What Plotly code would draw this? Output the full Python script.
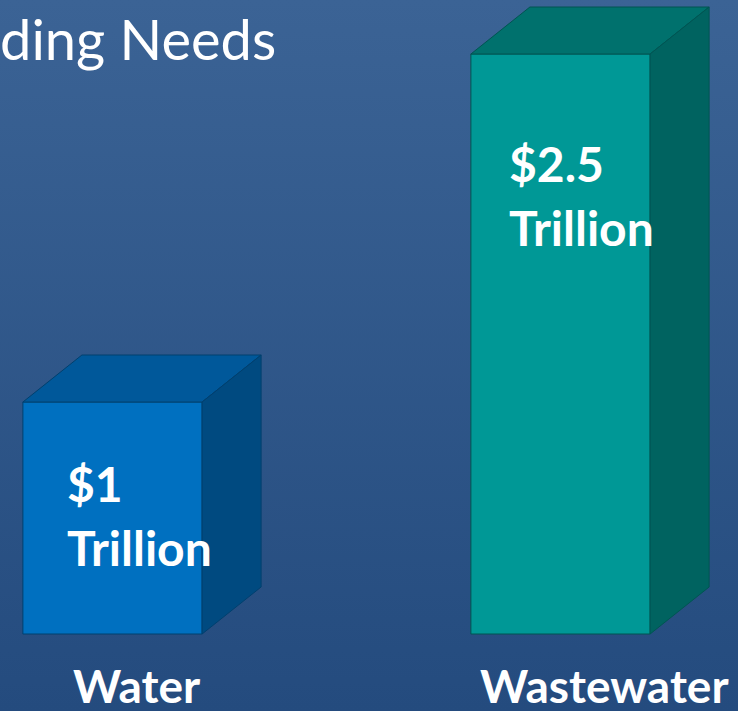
import base64
import plotly.graph_objects as go

# ---- data ----
categories = ["Water", "Wastewater"]
values = [1.0, 2.5]            # trillions of dollars
value_unit = "Trillion"
title_text = "Funding Needs"

# ---- style ----
front_colors = ["#0070C0", "#009896"]
top_colors = ["#00589A", "#00716D"]
side_colors = ["#004A80", "#006360"]
edge_colors = ["#00406E", "#005552"]
bg_top, bg_bottom = "#3B6395", "#244B7E"

W, H = 738, 711
px_per_x = 448.0
x0_px = 112.5             # pixel of first category centre
base_px = 634.0           # pixel of baseline
px_per_y = 232.0

def dx(p):   # pixel width -> data
    return p / px_per_x

def dy(p):
    return p / px_per_y

x_range = [-x0_px / px_per_x, (W - x0_px) / px_per_x]
y_range = [-(H - base_px) / px_per_y, base_px / px_per_y]

half = 0.2
depth_x = dx(59)
depth_y = dy(47)
xs = list(range(len(categories)))

fig = go.Figure()

# front faces
fig.add_trace(go.Bar(
    x=xs, y=values, width=2 * half,
    marker=dict(color=front_colors, line=dict(color=edge_colors, width=1)),
    hoverinfo="skip", showlegend=False,
))

# top and side faces (3D look)
for i, (c, v) in enumerate(zip(xs, values)):
    top_x = [c - half, c - half + depth_x, c + half + depth_x, c + half, c - half]
    top_y = [v, v + depth_y, v + depth_y, v, v]
    side_x = [c + half, c + half, c + half + depth_x, c + half + depth_x, c + half]
    side_y = [0, v, v + depth_y, depth_y, 0]
    fig.add_trace(go.Scatter(x=top_x, y=top_y, fill="toself", mode="lines",
                             fillcolor=top_colors[i],
                             line=dict(color=edge_colors[i], width=1),
                             hoverinfo="skip", showlegend=False))
    fig.add_trace(go.Scatter(x=side_x, y=side_y, fill="toself", mode="lines",
                             fillcolor=side_colors[i],
                             line=dict(color=edge_colors[i], width=1),
                             hoverinfo="skip", showlegend=False))

label_offsets_px = [81, 109]   # distance of first label line below bar top
line_gap_px = 64
label_left_px = [42, 36]
lbl_font = dict(family="Lato, 'Open Sans', sans-serif", size=48, color="white", weight="bold")
annotations = []
for i, (c, v) in enumerate(zip(xs, values)):
    lx = c - half + dx(label_left_px[i])
    y1 = v - dy(label_offsets_px[i])
    annotations.append(dict(x=lx, y=y1, xref="x", yref="y", text=f"${v:g}",
                            showarrow=False, xanchor="left", yanchor="middle", font=lbl_font))
    annotations.append(dict(x=lx, y=y1 - dy(line_gap_px), xref="x", yref="y", text=value_unit,
                            showarrow=False, xanchor="left", yanchor="middle", font=lbl_font))

# category labels
cat_offsets_px = [24, 44]
cat_font = dict(family="Lato, 'Open Sans', sans-serif", size=46, color="white", weight="bold")
for i, c in enumerate(xs):
    annotations.append(dict(x=c + dx(cat_offsets_px[i]), y=-dy(685 - base_px), xref="x", yref="y",
                            text=categories[i], showarrow=False, xanchor="center", yanchor="middle",
                            font=cat_font))

# title (cropped at left edge, as in the reference)
annotations.append(dict(x=278 / W, y=1 - 38 / H, xref="paper", yref="paper", text=title_text,
                        showarrow=False, xanchor="right", yanchor="middle",
                        font=dict(family="Lato, 'Open Sans', sans-serif", size=56, color="white")))

svg = (f'<svg xmlns="http://www.w3.org/2000/svg" width="{W}" height="{H}" preserveAspectRatio="none">'
       f'<defs><linearGradient id="g" x1="0" y1="0" x2="0" y2="1">'
       f'<stop offset="0" stop-color="{bg_top}"/><stop offset="1" stop-color="{bg_bottom}"/>'
       f'</linearGradient></defs><rect width="100%" height="100%" fill="url(#g)"/></svg>')
svg_uri = "data:image/svg+xml;base64," + base64.b64encode(svg.encode()).decode()

fig.update_layout(
    width=W, height=H,
    margin=dict(l=0, r=0, t=0, b=0),
    paper_bgcolor="#30588A",
    plot_bgcolor="rgba(0,0,0,0)",
    xaxis=dict(range=x_range, visible=False, fixedrange=True),
    yaxis=dict(range=y_range, visible=False, fixedrange=True),
    showlegend=False,
    annotations=annotations,
    images=[dict(source=svg_uri, xref="paper", yref="paper", x=0, y=1, sizex=1, sizey=1,
                 sizing="stretch", layer="below", xanchor="left", yanchor="top")],
)

fig.write_html("out.html", config={"displayModeBar": False},
               post_script="document.body.style.margin='0';document.body.style.background='#244B7E';")
